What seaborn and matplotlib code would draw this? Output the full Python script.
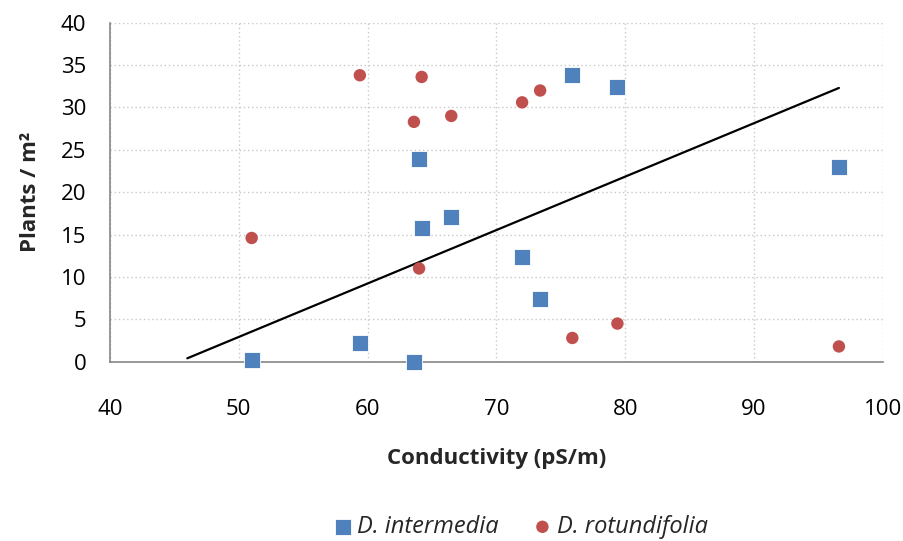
import matplotlib
matplotlib.use("Agg")
import matplotlib.pyplot as plt
import seaborn as sns
import pandas as pd
import numpy as np

# Data
conductivity = [51.0, 59.4, 63.6, 64.0, 64.2, 66.5, 72.0, 73.4, 75.9, 79.4, 96.6]
intermedia = [0.2, 2.2, 0.0, 23.9, 15.8, 17.1, 12.35, 7.4, 33.8, 32.4, 23.0]
rotundifolia = [14.6, 33.8, 28.3, 11.0, 33.6, 29.0, 30.6, 32.0, 2.8, 4.5, 1.8]
species = ["D. intermedia", "D. rotundifolia"]
trend_x = [46.0, 96.6]
trend_y = [0.4, 32.3]

df = pd.DataFrame({
    "Conductivity": conductivity * 2,
    "Plants": intermedia + rotundifolia,
    "Species": [species[0]] * len(conductivity) + [species[1]] * len(conductivity),
})

sns.set_style("white")
plt.rcParams["font.family"] = ["Open Sans", "DejaVu Sans"]

fig = plt.figure(figsize=(9.04, 5.41), dpi=100)
ax = fig.add_axes([110 / 904, 1 - 361.7 / 541, (882.7 - 110) / 904, (361.7 - 22.7) / 541])

colors = {species[0]: "#4F81BD", species[1]: "#C0504D"}
markers = {species[0]: "s", species[1]: "o"}

sns.lineplot(x=trend_x, y=trend_y, ax=ax, color="black", linewidth=1.6, zorder=3)

for sp in species:
    sub = df[df["Species"] == sp]
    sns.scatterplot(data=sub, x="Conductivity", y="Plants", ax=ax,
                    color=colors[sp], marker=markers[sp],
                    s=120 if sp == species[0] else 80,
                    edgecolor="white" if sp == species[0] else "none",
                    linewidth=0.6, zorder=4, label=sp, clip_on=False)

ax.set_xlim(40, 100)
ax.set_ylim(0, 40)
ax.set_xticks(range(40, 101, 10))
ax.set_yticks(range(0, 41, 5))

ax.grid(True, color="#c8c8c8", linestyle=(0, (1, 2)), linewidth=1.0)
ax.set_axisbelow(True)

for s in ["top", "right"]:
    ax.spines[s].set_visible(False)
for s in ["left", "bottom"]:
    ax.spines[s].set_color("#868686")
    ax.spines[s].set_linewidth(1.2)

ax.tick_params(axis="both", which="major", width=1.2, color="#868686",
               labelsize=16, labelcolor="black", direction="out")
ax.tick_params(axis="x", pad=21, length=6)
ax.tick_params(axis="y", pad=10, length=7)

ax.set_xlabel("Conductivity (pS/m)", fontsize=16, fontweight="bold", labelpad=20)
ax.set_ylabel("Plants / m²", fontsize=16, fontweight="bold", labelpad=14)

leg = ax.legend(loc="center", bbox_to_anchor=(0.529, -0.4876), ncol=2, frameon=False,
                fontsize=17, handletextpad=0.05, columnspacing=1.3, markerscale=1.0,
                handlelength=1.1)
for t in leg.get_texts():
    t.set_fontstyle("italic")

fig.savefig("out.png", dpi=100)
